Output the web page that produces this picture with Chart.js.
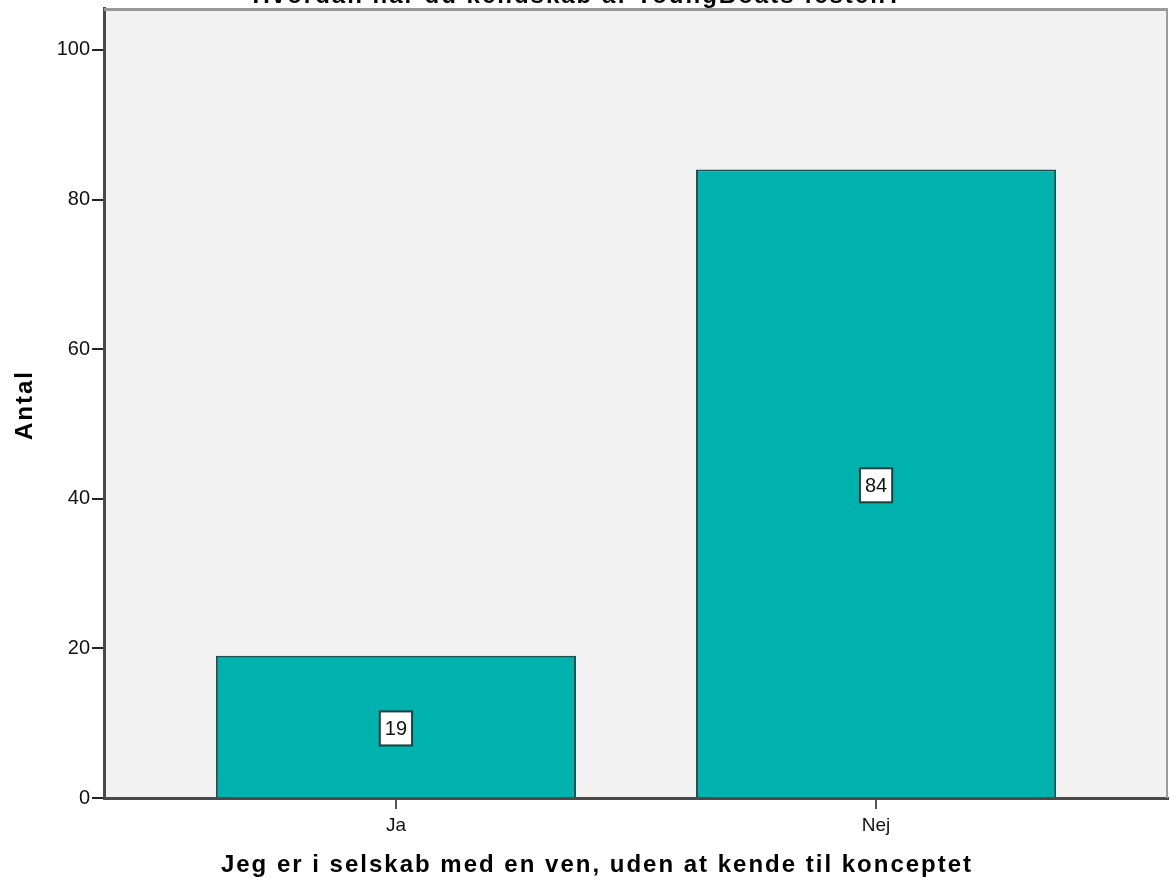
<!DOCTYPE html>
<html>
<head>
<meta charset="utf-8">
<script src="https://cdn.jsdelivr.net/npm/chart.js@4.4.1/dist/chart.umd.min.js"></script>
<style>
  html, body { margin: 0; padding: 0; background: #fff; }
  #wrap { width: 1170px; height: 891px; position: relative; }
</style>
</head>
<body>
<div id="wrap"><canvas id="chart-antal" width="1170" height="891"></canvas></div>
<script>
// ─── Data ──────────────────────────────────────
const kategorier = ['Ja', 'Nej'];
const antal      = [19, 84];
const yTicks     = [0, 20, 40, 60, 80, 100];

const titel   = 'Hvordan har du kendskab af YoungBoats festen?';
const xTitel  = 'Jeg er i selskab med en ven, uden at kende til konceptet';
const yTitel  = 'Antal';

const FONT = '"Liberation Sans", Arial, sans-serif';

// baggrund + ramme + tekster uden for plot
const rammePlugin = {
  id: 'ramme',
  beforeDraw(chart) {
    const { ctx, chartArea: a } = chart;
    ctx.save();
    ctx.fillStyle = '#f2f2f2';
    ctx.fillRect(a.left, a.top, a.right - a.left, a.bottom - a.top);
    ctx.restore();
  },
  afterDraw(chart) {
    const { ctx, chartArea: a } = chart;
    ctx.save();
    ctx.strokeStyle = '#9a9a9a';
    ctx.lineWidth = 3;
    ctx.beginPath();
    ctx.moveTo(a.left, a.top + 1.5);
    ctx.lineTo(a.right, a.top + 1.5);
    ctx.stroke();
    ctx.lineWidth = 2;
    ctx.beginPath();
    ctx.moveTo(a.right - 1, a.top);
    ctx.lineTo(a.right - 1, a.bottom);
    ctx.stroke();

    // titel (skåret af i toppen som i originalen)
    ctx.fillStyle = '#000';
    ctx.font = 'bold 24px ' + FONT;
    ctx.letterSpacing = '2px';
    ctx.textAlign = 'center';
    ctx.textBaseline = 'alphabetic';
    ctx.fillText(titel, 578, 3);

    // akse-titler
    ctx.fillText(xTitel, 597, 872);
    ctx.translate(32, 405);
    ctx.rotate(-Math.PI / 2);
    ctx.fillText(yTitel, 0, 0);
    ctx.restore();
  }
};

// værdi-labels i hvide bokse midt i søjlerne
const labelPlugin = {
  id: 'vaerdiLabels',
  afterDatasetsDraw(chart) {
    const { ctx } = chart;
    const meta = chart.getDatasetMeta(0);
    ctx.save();
    ctx.font = '20px ' + FONT;
    ctx.textAlign = 'center';
    ctx.textBaseline = 'middle';
    meta.data.forEach((bar, i) => {
      const txt = String(antal[i]);
      const cy = (bar.y + bar.base) / 2 + 2;
      const w = ctx.measureText(txt).width + 10;
      const h = 34;
      ctx.fillStyle = '#fff';
      ctx.fillRect(bar.x - w / 2, cy - h / 2, w, h);
      ctx.strokeStyle = '#1e3f3f';
      ctx.lineWidth = 2;
      ctx.strokeRect(bar.x - w / 2, cy - h / 2, w, h);
      ctx.fillStyle = '#111';
      ctx.fillText(txt, bar.x, cy + 1);
    });
    ctx.restore();
  }
};

new Chart(document.getElementById('chart-antal'), {
  type: 'bar',
  data: {
    datasets: [{
      label: yTitel,
      data: kategorier.map((k, i) => ({ x: i, y: antal[i] })),
      backgroundColor: '#00b2ae',
      borderColor: '#1e4f4f',
      borderWidth: 2,
      barPercentage: 0.75,
      categoryPercentage: 1,
    }],
  },
  options: {
    responsive: false,
    animation: false,
    layout: { padding: { top: 8, right: 2, left: 0, bottom: 0 } },
    plugins: {
      legend: { display: false },
      title: { display: false },
      tooltip: { enabled: false },
    },
    scales: {
      x: {
        type: 'linear',
        offset: false,
        min: -0.608,
        max: 1.608,
        afterBuildTicks: s => { s.ticks = kategorier.map((k, i) => ({ value: i })); },
        afterFit: s => { s.height = 93; },
        ticks: {
          callback: v => kategorier[v],
          font: { family: FONT, size: 19 },
          color: '#111',
          padding: 5,
          maxRotation: 0,
        },
        grid: { offset: false, drawOnChartArea: false, drawTicks: true, tickLength: 11, color: '#555', lineWidth: 2 },
        border: { display: true, color: '#4a4a4a', width: 3 },
      },
      y: {
        min: 0,
        max: 105.6,
        afterBuildTicks: s => { s.ticks = yTicks.map(v => ({ value: v })); },
        afterFit: s => { s.width = 104; s.paddingTop = 0; },
        ticks: {
          font: { family: FONT, size: 20 },
          color: '#111',
          padding: 2,
        },
        grid: { drawOnChartArea: false, drawTicks: true, tickLength: 12, color: '#222', lineWidth: 2 },
        border: { display: true, color: '#4a4a4a', width: 3 },
      },
    },
  },
  plugins: [rammePlugin, labelPlugin],
});
</script>
</body>
</html>
